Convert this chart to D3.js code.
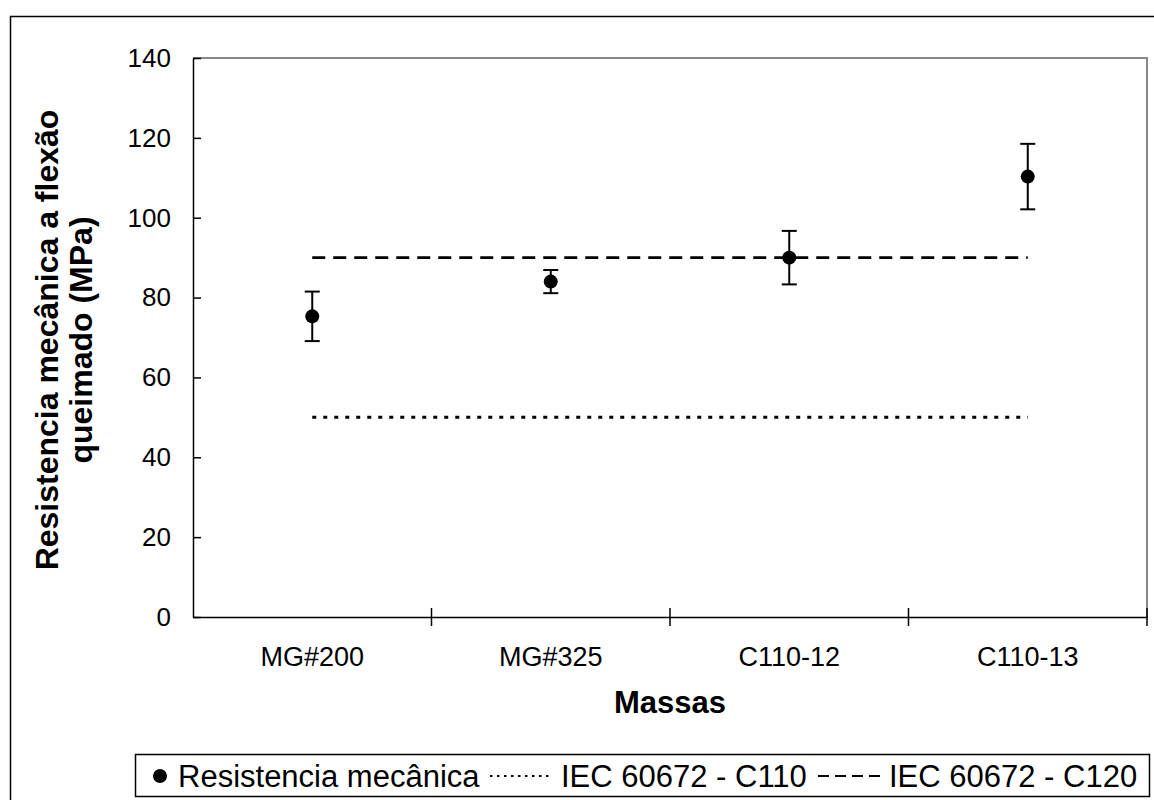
<!DOCTYPE html>
<html>

<head>
    <meta charset="utf-8">
    <style>
        body {
            margin: 0;
            background: #fff;
        }

        svg {
            font-family: 'Liberation Sans', Arial, sans-serif;
        }
    </style>
</head>

<body>
    <svg width="1154" height="800"></svg>
</body>

<script src="https://d3js.org/d3.v7.min.js"></script>

<script>
    // data
    let categories = ["MG#200", "MG#325", "C110-12", "C110-13"];
    let meanValues = [75.3, 84.0, 90.0, 110.3];
    let errValues = [6.2, 2.9, 6.7, 8.2];
    let c110Value = 50;
    let c120Value = 90;
    let yTicks = [0, 20, 40, 60, 80, 100, 120, 140];
    let legendLabels = ["Resistencia mecânica", "IEC 60672 - C110", "IEC 60672 - C120"];

    let svg = d3.select("svg");

    let margin = { top: 58, right: 7, bottom: 183, left: 193 };
    let width = 1154, height = 800;

    // outer frame
    svg.append("rect")
        .attr("x", 10.5).attr("y", 16.5)
        .attr("width", 1160).attr("height", 800)
        .attr("fill", "none")
        .attr("stroke", "#000")
        .attr("stroke-width", 1.5);

    let x = d3.scaleBand()
        .domain(categories)
        .range([margin.left, width - margin.right])
        .padding(0);

    let y = d3.scaleLinear()
        .domain([0, 140])
        .range([height - margin.bottom, margin.top]);

    // plot frame top/right (grey)
    svg.append("path")
        .attr("d", `M${margin.left},${y(140)}H${width - margin.right}V${y(0)}`)
        .attr("fill", "none")
        .attr("stroke", "#888")
        .attr("stroke-width", 2);

    // reference lines from first to last category centre
    let xStart = x(categories[0]) + x.bandwidth() / 2;
    let xEnd = x(categories[categories.length - 1]) + x.bandwidth() / 2;

    svg.append("line")
        .attr("x1", xStart).attr("x2", xEnd)
        .attr("y1", y(c110Value)).attr("y2", y(c110Value))
        .attr("stroke", "#000")
        .attr("stroke-width", 3)
        .attr("stroke-dasharray", "4,7");

    svg.append("line")
        .attr("x1", xStart).attr("x2", xEnd)
        .attr("y1", y(c120Value)).attr("y2", y(c120Value))
        .attr("stroke", "#000")
        .attr("stroke-width", 2.7)
        .attr("stroke-dasharray", "13,8");

    // axes
    let yAxis = svg.append("g")
        .attr("transform", `translate(${margin.left},0)`)
        .call(d3.axisLeft(y).tickValues(yTicks).tickSizeInner(8).tickSizeOuter(0).tickPadding(14));

    yAxis.selectAll(".tick line").attr("x2", 8);

    let xAxis = svg.append("g")
        .attr("transform", `translate(0,${y(0)})`)
        .call(d3.axisBottom(x).tickSize(0).tickPadding(30));

    // x ticks at band boundaries
    let bounds = categories.map(c => x(c)).concat([x.range()[1]]);
    svg.selectAll(".xbound")
        .data(bounds.slice(1))
        .enter().append("line")
        .attr("x1", d => d).attr("x2", d => d)
        .attr("y1", y(0) - 9).attr("y2", y(0) + 9)
        .attr("stroke", "#000")
        .attr("stroke-width", 1.5);

    svg.selectAll(".domain").attr("stroke", "#000").attr("stroke-width", 1.5);
    svg.selectAll(".tick line").attr("stroke", "#000").attr("stroke-width", 1.5);
    yAxis.selectAll(".tick text")
        .attr("fill", "#000")
        .style("font-size", "26px");
    xAxis.selectAll(".tick text")
        .attr("fill", "#000")
        .style("font-size", "27px");

    // error bars
    let pts = categories.map((c, i) => ({ cat: c, v: meanValues[i], e: errValues[i] }));

    let eb = svg.selectAll(".err")
        .data(pts)
        .enter().append("g")
        .attr("transform", d => `translate(${x(d.cat) + x.bandwidth() / 2},0)`);

    eb.append("line")
        .attr("y1", d => y(d.v + d.e)).attr("y2", d => y(d.v - d.e))
        .attr("stroke", "#000").attr("stroke-width", 2);
    eb.append("line")
        .attr("x1", -7.5).attr("x2", 7.5)
        .attr("y1", d => y(d.v + d.e)).attr("y2", d => y(d.v + d.e))
        .attr("stroke", "#000").attr("stroke-width", 2);
    eb.append("line")
        .attr("x1", -7.5).attr("x2", 7.5)
        .attr("y1", d => y(d.v - d.e)).attr("y2", d => y(d.v - d.e))
        .attr("stroke", "#000").attr("stroke-width", 2);
    eb.append("circle")
        .attr("cy", d => y(d.v))
        .attr("r", 7)
        .attr("fill", "#000");

    // axis titles
    svg.append("text")
        .attr("x", (margin.left + width - margin.right) / 2)
        .attr("y", 713)
        .attr("text-anchor", "middle")
        .style("font-size", "31px")
        .style("font-weight", "bold")
        .text("Massas");

    let yTitle = svg.append("text")
        .attr("transform", "translate(0,340) rotate(-90)")
        .attr("text-anchor", "middle")
        .style("font-size", "32px")
        .style("font-weight", "bold");
    yTitle.append("tspan").attr("x", 0).attr("y", 58).text("Resistencia mecânica a flexão");
    yTitle.append("tspan").attr("x", 0).attr("y", 92).text("queimado (MPa)");

    // legend
    let lg = svg.append("g");
    lg.append("rect")
        .attr("x", 135.5).attr("y", 754.5)
        .attr("width", 1014).attr("height", 42)
        .attr("fill", "#fff")
        .attr("stroke", "#000")
        .attr("stroke-width", 1.5);

    let ly = 776;
    lg.append("circle").attr("cx", 160).attr("cy", ly).attr("r", 7).attr("fill", "#000");
    lg.append("line").attr("x1", 490).attr("x2", 552).attr("y1", ly).attr("y2", ly)
        .attr("stroke", "#000").attr("stroke-width", 2).attr("stroke-dasharray", "2.5,4.5");
    lg.append("line").attr("x1", 818).attr("x2", 880).attr("y1", ly).attr("y2", ly)
        .attr("stroke", "#000").attr("stroke-width", 2).attr("stroke-dasharray", "11,6");

    let legendX = [178, 561, 889];
    lg.selectAll(".lt")
        .data(legendLabels)
        .enter().append("text")
        .attr("x", (d, i) => legendX[i])
        .attr("y", ly + 11)
        .style("font-size", "31px")
        .text(d => d);
</script>

</html>
